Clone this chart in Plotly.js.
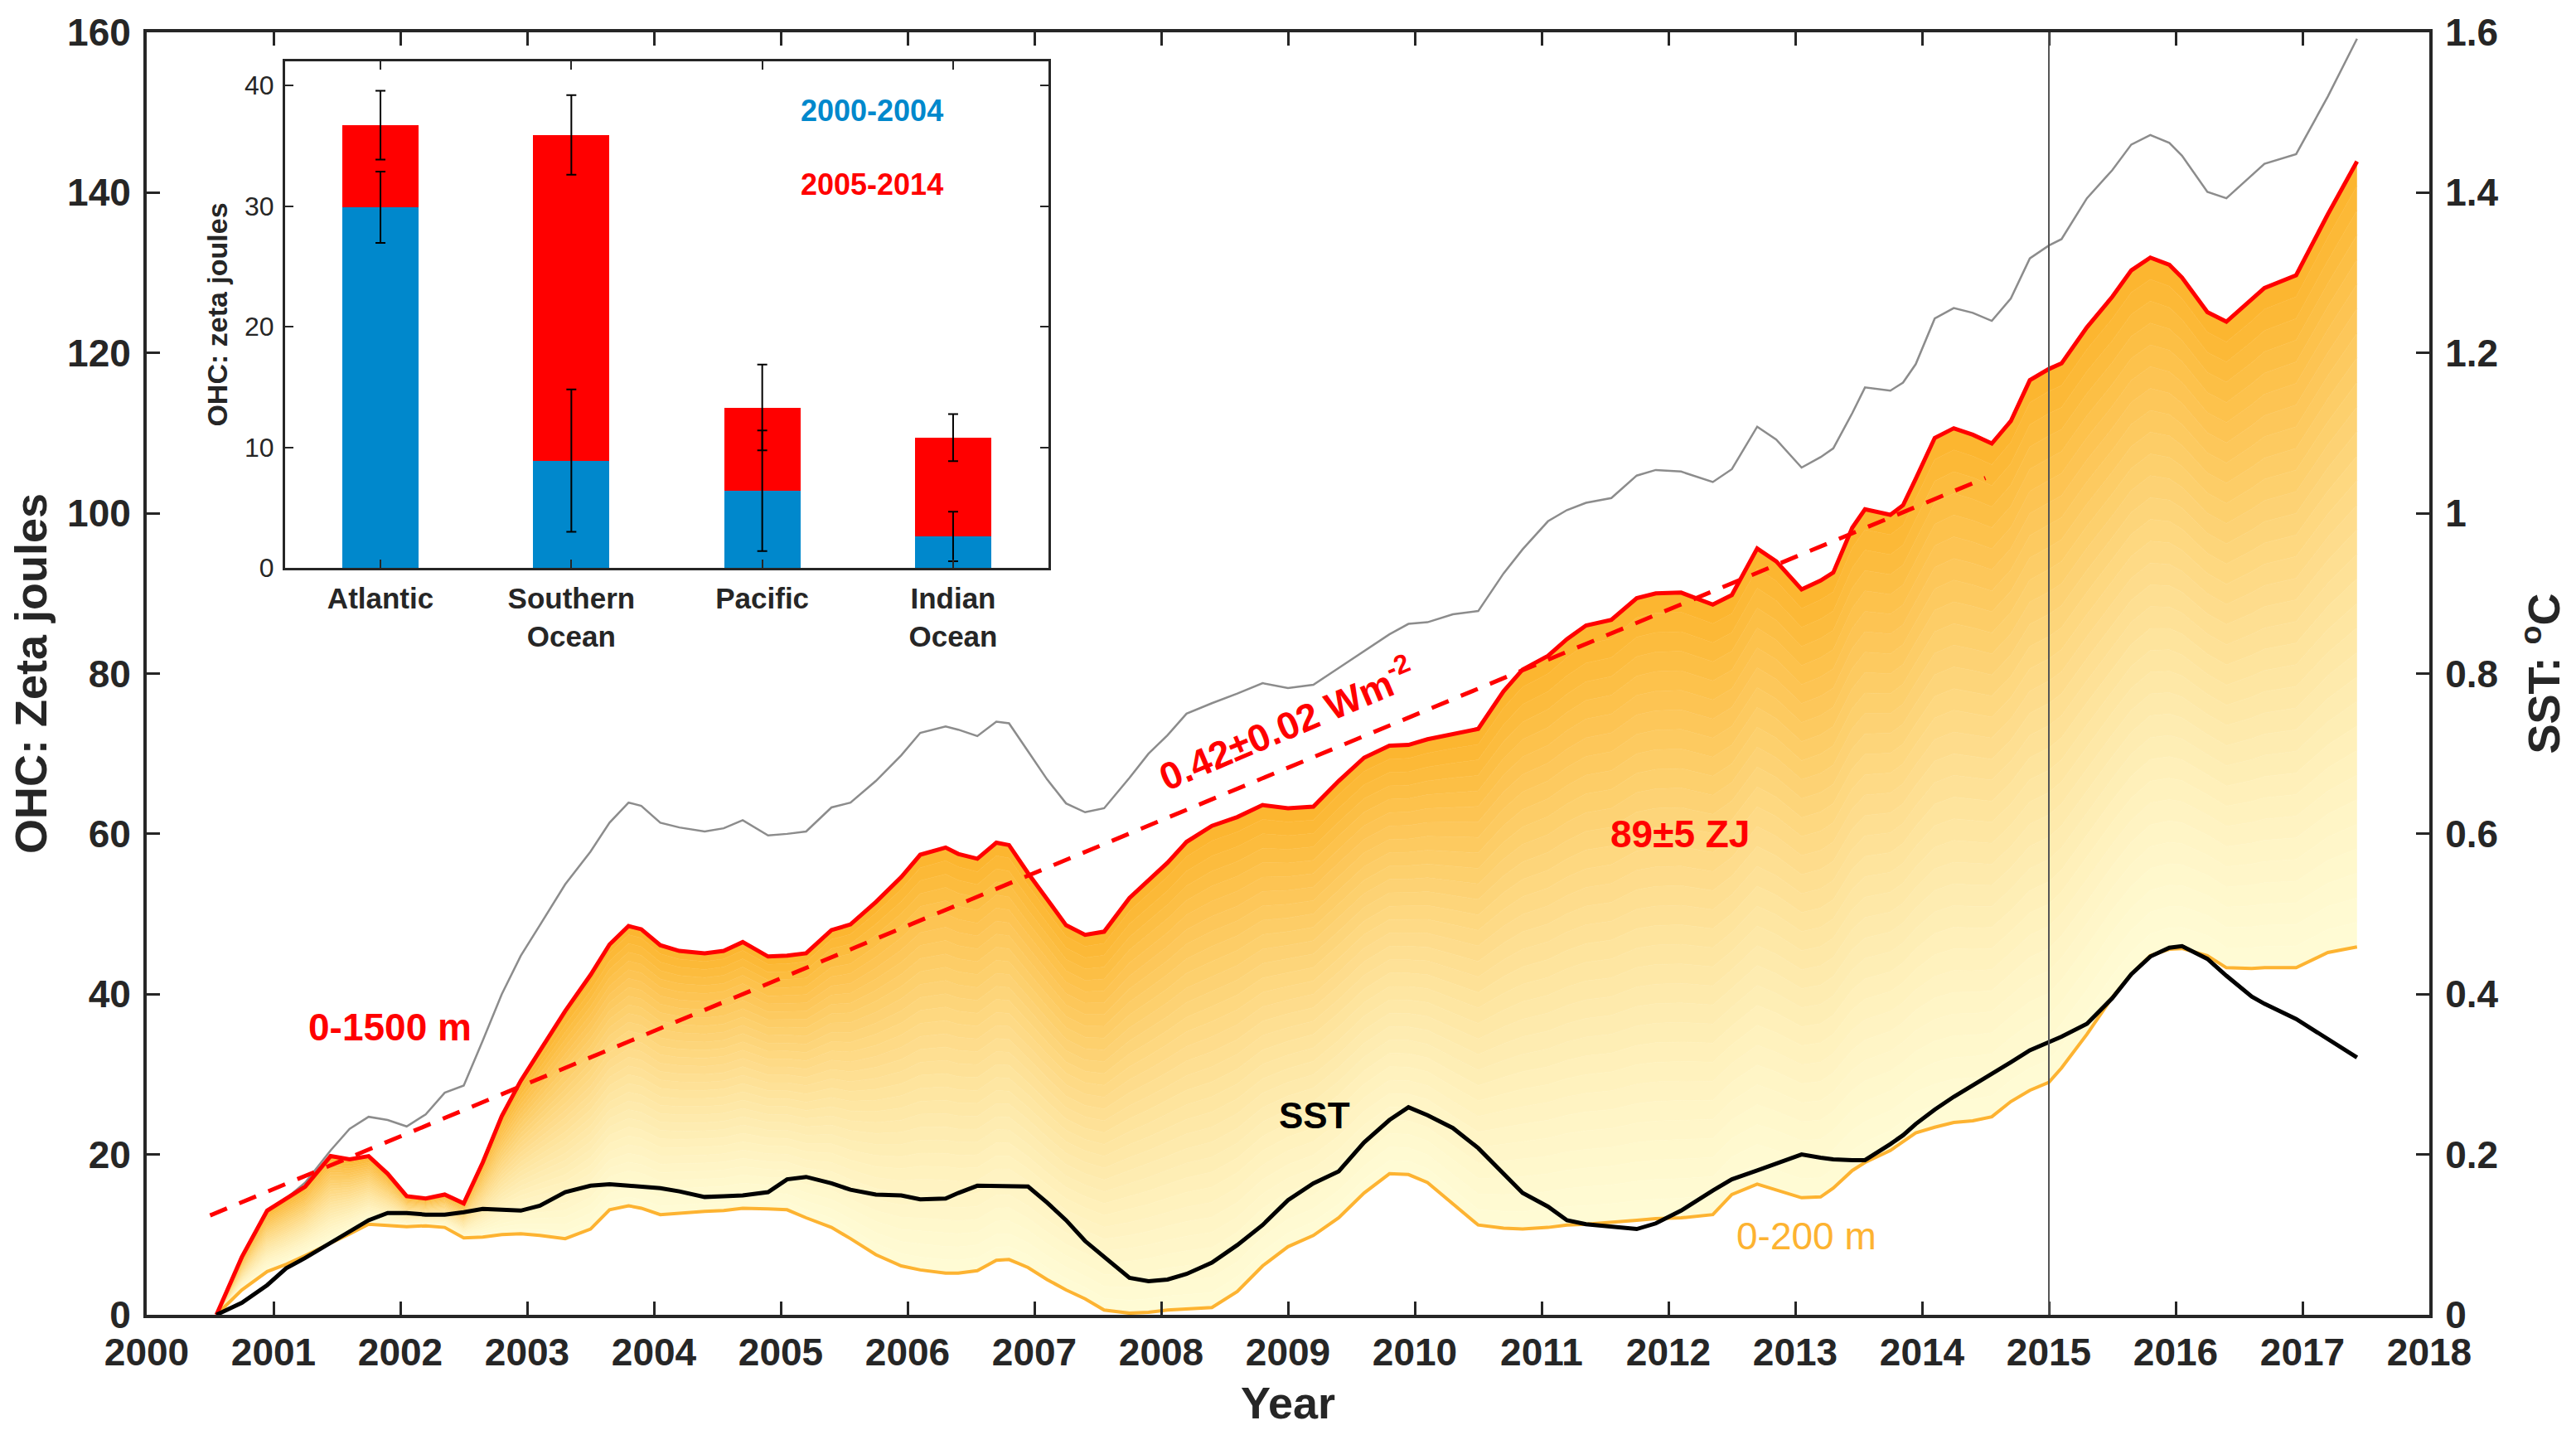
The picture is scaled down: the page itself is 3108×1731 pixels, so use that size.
<!DOCTYPE html>
<html>
<head>
<meta charset="utf-8">
<script src="https://cdn.plot.ly/plotly-3.0.1.min.js"></script>
<style>
  html, body { margin: 0; padding: 0; background: #fff; }
  #chart { width: 3108px; height: 1731px; }
</style>
</head>
<body>
<div id="chart"></div>
<script>
// time axis shared by all main-panel series (decimal years)
var years = [2000.55, 2000.75, 2000.95, 2001.1, 2001.25, 2001.45, 2001.6, 2001.75, 2001.9, 2002.05,
  2002.2, 2002.35, 2002.5, 2002.65, 2002.8, 2002.95, 2003.1, 2003.3, 2003.5, 2003.65,
  2003.8, 2003.9, 2004.05, 2004.2, 2004.4, 2004.55, 2004.7, 2004.9, 2005.05, 2005.2,
  2005.4, 2005.55, 2005.75, 2005.95, 2006.1, 2006.3, 2006.4, 2006.55, 2006.7, 2006.8,
  2006.95, 2007.1, 2007.25, 2007.4, 2007.55, 2007.75, 2007.9, 2008.05, 2008.2, 2008.4,
  2008.6, 2008.8, 2009.0, 2009.2, 2009.4, 2009.6, 2009.8, 2009.95, 2010.1, 2010.3,
  2010.5, 2010.7, 2010.85, 2011.05, 2011.2, 2011.35, 2011.55, 2011.75, 2011.9, 2012.1,
  2012.35, 2012.5, 2012.7, 2012.85, 2013.05, 2013.2, 2013.3, 2013.45, 2013.55, 2013.75,
  2013.85, 2013.95, 2014.1, 2014.25, 2014.4, 2014.55, 2014.7, 2014.85, 2015.0, 2015.1,
  2015.3, 2015.5, 2015.65, 2015.8, 2015.95, 2016.05, 2016.25, 2016.4, 2016.6, 2016.7,
  2016.95, 2017.2, 2017.43];

// OHC 0-1500 m (ZJ)
var ohc1500 = [0, 7.2, 13, 14.5, 16, 19.8, 19.4, 19.8, 17.6, 14.8,
  14.5, 15, 13.9, 19, 24.8, 29.2, 32.9, 37.9, 42.4, 46.2,
  48.5, 48.1, 46.1, 45.4, 45.1, 45.4, 46.5, 44.7, 44.8, 45.1,
  48, 48.7, 51.5, 54.6, 57.4, 58.3, 57.5, 56.9, 58.9, 58.6,
  55.1, 51.8, 48.6, 47.4, 47.8, 52, 54.2, 56.4, 59, 61,
  62.1, 63.6, 63.2, 63.4, 66.6, 69.5, 71, 71.1, 71.8, 72.5,
  73.1, 77.8, 80.5, 82.2, 84.3, 86, 86.7, 89.4, 90, 90.1,
  88.6, 89.8, 95.6, 94, 90.5, 91.6, 92.6, 98.2, 100.5, 99.8,
  101, 104.3, 109.4, 110.6, 109.8, 108.7, 111.5, 116.6, 118, 118.7,
  123.2, 127, 130.3, 131.9, 131, 129.4, 125.1, 123.9, 126.6, 128.1,
  129.7, 137.3, 143.9];

// upper grey curve (ZJ)
var ohcUpper = [0, 7.2, 13, 14.5, 16.5, 20.5, 23.2, 24.7, 24.3, 23.5,
  25, 27.7, 28.6, 34.2, 40, 44.8, 48.6, 53.7, 57.8, 61.4,
  63.9, 63.5, 61.4, 60.8, 60.3, 60.7, 61.7, 59.8, 60, 60.3,
  63.3, 63.9, 66.6, 69.8, 72.6, 73.4, 73, 72.2, 74, 73.8,
  70.3, 66.8, 63.8, 62.7, 63.2, 67, 70, 72.3, 75, 76.3,
  77.5, 78.8, 78.2, 78.6, 80.7, 82.8, 84.9, 86.2, 86.4, 87.4,
  87.8, 92.5, 95.5, 99, 100.4, 101.3, 101.9, 104.7, 105.4, 105.2,
  103.9, 105.5, 110.8, 109.2, 105.7, 107, 108.1, 112.5, 115.7, 115.3,
  116.3, 118.6, 124.3, 125.6, 125, 124, 126.8, 131.8, 133.4, 134.2,
  139.3, 142.8, 146, 147.2, 146.2, 144.6, 140.1, 139.3, 142.2, 143.6,
  144.8, 152, 159.2];

// OHC 0-200 m (ZJ)
var ohc200 = [0, 3.1, 5.4, 6.3, 7.4, 8.9, 10.1, 11.3, 11.1, 11,
  11.1, 10.9, 9.6, 9.7, 10, 10.1, 9.9, 9.5, 10.7, 13.1,
  13.6, 13.3, 12.5, 12.7, 12.9, 13, 13.3, 13.2, 13.1, 12.1,
  10.9, 9.5, 7.5, 6.1, 5.6, 5.2, 5.2, 5.5, 6.8, 6.9,
  5.9, 4.4, 3.1, 2, 0.6, 0.2, 0.3, 0.6, 0.7, 0.9,
  2.9, 6.1, 8.5, 9.9, 12.1, 15.2, 17.6, 17.5, 16.5, 13.8,
  11.2, 10.8, 10.7, 10.9, 11.2, 11.3, 11.5, 11.8, 12, 12.1,
  12.5, 15, 16.3, 15.6, 14.6, 14.7, 15.8, 18, 19, 20.5,
  21.6, 22.7, 23.4, 24, 24.2, 24.7, 26.6, 28, 29, 30.8,
  35, 39.6, 42.5, 44.8, 45.6, 45.7, 44.8, 43.3, 43.2, 43.3,
  43.3, 45.2, 45.9];

// SST anomaly (deg C)
var sst = [0, 0.015, 0.037, 0.058, 0.071, 0.09, 0.104, 0.118, 0.127, 0.127,
  0.125, 0.125, 0.128, 0.132, 0.131, 0.13, 0.136, 0.153, 0.161, 0.163,
  0.161, 0.16, 0.158, 0.154, 0.147, 0.148, 0.149, 0.153, 0.169, 0.172,
  0.164, 0.156, 0.15, 0.149, 0.144, 0.145, 0.152, 0.161, 0.161, 0.161,
  0.16, 0.14, 0.118, 0.092, 0.072, 0.046, 0.042, 0.044, 0.051, 0.065,
  0.087, 0.112, 0.143, 0.164, 0.179, 0.215, 0.243, 0.259, 0.249, 0.233,
  0.208, 0.175, 0.152, 0.135, 0.118, 0.113, 0.11, 0.107, 0.114, 0.13,
  0.155, 0.169, 0.18, 0.189, 0.2, 0.196, 0.194, 0.193, 0.193, 0.213,
  0.224, 0.238, 0.256, 0.272, 0.286, 0.3, 0.315, 0.33, 0.34, 0.347,
  0.363, 0.395, 0.425, 0.447, 0.458, 0.46, 0.444, 0.423, 0.397, 0.388,
  0.369, 0.344, 0.321];

// linear fit 0-1500 m
var trendYears = [2000.5, 2014.5];
var trendValues = [12.4, 104.4];
var eventYear = 2015;

// inset: basin contributions (ZJ)
var basins = ["Atlantic", "Southern<br>Ocean", "Pacific", "Indian<br>Ocean"];
var period1 = [29.9, 8.9, 6.4, 2.6];
var period1Err = [2.95, 5.9, 5.0, 2.05];
var period2 = [6.8, 27.0, 6.9, 8.2];
var period2Err = [2.85, 3.3, 3.55, 1.95];

var FONT = '"Liberation Sans", Arial, Helvetica, sans-serif';
var INK = '#262626';
var RED = '#ff0000';
var ORANGE = '#fdb331';
var BLUE = 'rgb(0,136,204)';

var traces = [];

// gradient fill between 0-200 m and 0-1500 m, built as stacked bands
var bandCount = 32;
var lowColor = [255, 251, 212], highColor = [252, 180, 44];
traces.push({x: years, y: ohc200, mode: 'lines', line: {width: 0}, hoverinfo: 'skip', showlegend: false});
for (var b = 1; b <= bandCount; b++) {
  var f = b / bandCount;
  var t = Math.pow((b - 0.5) / bandCount, 1.4);
  var c = lowColor.map(function(v, k) { return Math.round(v + (highColor[k] - v) * t); });
  var col = 'rgb(' + c.join(',') + ')';
  traces.push({
    x: years,
    y: ohc200.map(function(lo, i) { return lo + f * (ohc1500[i] - lo); }),
    mode: 'lines', fill: 'tonexty', fillcolor: col,
    line: {width: 0.8, color: col}, hoverinfo: 'skip', showlegend: false
  });
}

traces.push({x: years, y: ohc200, mode: 'lines', line: {color: ORANGE, width: 4}, name: '0-200 m', showlegend: false});
traces.push({x: years, y: ohcUpper, mode: 'lines', line: {color: '#8c8c8c', width: 2.5}, showlegend: false});
traces.push({x: years, y: ohc1500, mode: 'lines', line: {color: RED, width: 5}, name: '0-1500 m', showlegend: false});
traces.push({x: trendYears, y: trendValues, mode: 'lines', line: {color: RED, width: 5, dash: '22px,16px'}, showlegend: false});
traces.push({x: years, y: sst, yaxis: 'y2', mode: 'lines', line: {color: '#000', width: 5}, name: 'SST', showlegend: false});

// inset bars
traces.push({
  type: 'bar', x: basins, y: period1, xaxis: 'x3', yaxis: 'y3', width: 0.4,
  marker: {color: BLUE, line: {width: 0}}, showlegend: false
});
traces.push({
  type: 'bar', x: basins, y: period2, xaxis: 'x3', yaxis: 'y3', width: 0.4,
  marker: {color: RED, line: {width: 0}}, showlegend: false
});
// error bars drawn above both bar segments
var stackTop = period1.map(function(v, i) { return v + period2[i]; });
[[period1, period1Err], [stackTop, period2Err]].forEach(function(pair) {
  traces.push({
    type: 'scatter', mode: 'markers', x: basins, y: pair[0], xaxis: 'x3', yaxis: 'y3',
    marker: {size: 1, opacity: 0}, showlegend: false, hoverinfo: 'skip',
    error_y: {type: 'data', array: pair[1], color: '#000', thickness: 2, width: 6}
  });
});

var tickFont = {family: FONT, size: 46, color: INK, weight: 'bold'};
var titleFont = {family: FONT, size: 54, color: INK, weight: 'bold'};
var annFont = function(color, size) { return {family: FONT, size: size || 46, color: color, weight: 'bold'}; };

var layout = {
  width: 3108, height: 1731,
  margin: {l: 177, r: 177, t: 39, b: 145},
  paper_bgcolor: '#fff', plot_bgcolor: 'rgba(0,0,0,0)',
  barmode: 'stack',
  showlegend: false,
  xaxis: {
    range: [2000, 2018], dtick: 1, tick0: 2000, ticks: 'inside', ticklen: 16, tickwidth: 3,
    tickcolor: INK, showline: true, linewidth: 4, linecolor: INK, mirror: 'ticks',
    showgrid: false, zeroline: false, tickfont: tickFont, ticklabelstandoff: 2,
    title: {text: 'Year', font: titleFont, standoff: 18}
  },
  yaxis: {
    range: [0, 160], dtick: 20, ticks: 'inside', ticklen: 16, tickwidth: 3, tickcolor: INK,
    showline: true, linewidth: 4, linecolor: INK, showgrid: false, zeroline: false,
    tickfont: tickFont, ticklabelstandoff: 6,
    title: {text: 'OHC: Zeta joules', font: titleFont, standoff: 8}
  },
  yaxis2: {
    overlaying: 'y', side: 'right', range: [0, 1.6], dtick: 0.2, ticks: 'inside', ticklen: 16,
    tickwidth: 3, tickcolor: INK, showline: true, linewidth: 4, linecolor: INK,
    showgrid: false, zeroline: false, tickfont: tickFont, ticklabelstandoff: 6,
    title: {text: 'SST: <sup>o</sup>C', font: titleFont, standoff: 38}
  },
  xaxis3: {
    domain: [0.0606, 0.3951], anchor: 'y3', range: [-0.5, 3.5], type: 'category',
    ticks: 'inside', ticklen: 10, tickwidth: 2, tickcolor: INK, showline: true, linewidth: 3,
    linecolor: INK, mirror: 'ticks', showgrid: false, zeroline: false,
    tickfont: {family: FONT, size: 35, color: INK, weight: 'bold'}, ticklabelstandoff: 4
  },
  yaxis3: {
    domain: [0.5824, 0.9774], anchor: 'x3', range: [0, 42], dtick: 10, ticks: 'inside',
    ticklen: 10, tickwidth: 2, tickcolor: INK, showline: true, linewidth: 3, linecolor: INK,
    mirror: 'ticks', showgrid: false, zeroline: false,
    tickfont: {family: FONT, size: 32, color: INK}, ticklabelstandoff: 4,
    title: {text: 'OHC: zeta joules', font: {family: FONT, size: 34, color: INK, weight: 'bold'}, standoff: 10}
  },
  shapes: [{
    type: 'line', xref: 'x', yref: 'paper', x0: eventYear, x1: eventYear, y0: 0, y1: 1,
    line: {color: '#555', width: 2}, layer: 'above'
  }],
  annotations: [
    {xref: 'x', yref: 'y', x: 2001.92, y: 35.9, text: '0-1500 m', showarrow: false, font: annFont(RED)},
    {xref: 'x', yref: 'y', x: 2008.99, y: 73.8, text: '0.42\u00b10.02 Wm<sup>-2</sup>', textangle: -23,
      showarrow: false, font: annFont(RED)},
    {xref: 'x', yref: 'y', x: 2012.09, y: 60, text: '89\u00b15 ZJ', showarrow: false, font: annFont(RED)},
    {xref: 'x', yref: 'y', x: 2009.21, y: 24.9, text: 'SST', showarrow: false, font: annFont('#000', 44)},
    {xref: 'x', yref: 'y', x: 2013.09, y: 9.8, text: '0-200 m', showarrow: false,
      font: {family: FONT, size: 46, color: ORANGE, weight: 'normal'}},
    {xref: 'x3', yref: 'y3', x: 2.574, y: 37.9, text: '2000-2004', showarrow: false,
      font: {family: FONT, size: 36, color: BLUE, weight: 'bold'}},
    {xref: 'x3', yref: 'y3', x: 2.574, y: 31.8, text: '2005-2014', showarrow: false,
      font: {family: FONT, size: 36, color: RED, weight: 'bold'}}
  ]
};

Plotly.newPlot('chart', traces, layout, {staticPlot: true, displayModeBar: false});
</script>
</body>
</html>
